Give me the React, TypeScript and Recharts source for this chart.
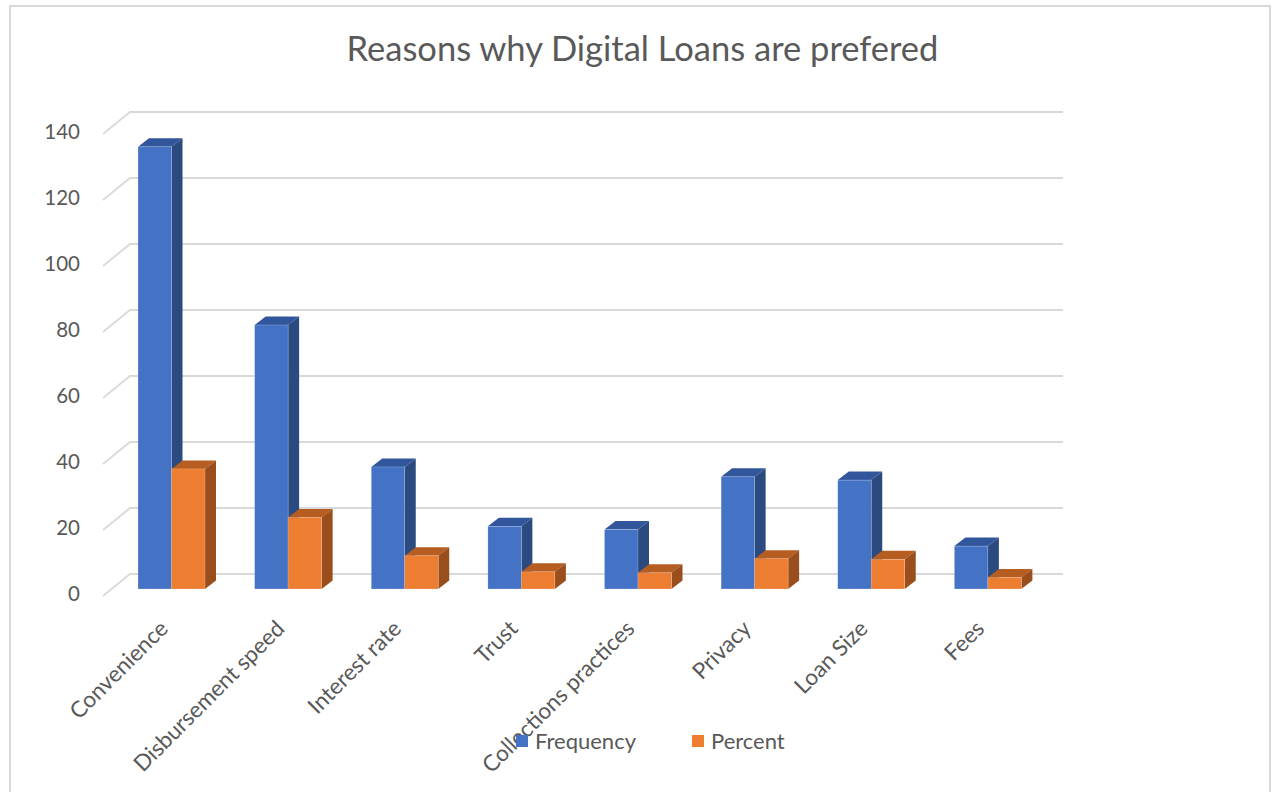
import React from 'react';
import { BarChart, Bar, XAxis, YAxis, CartesianGrid } from 'recharts';

const categories = [
  'Convenience',
  'Disbursement speed',
  'Interest rate',
  'Trust',
  'Collections practices',
  'Privacy',
  'Loan Size',
  'Fees',
];
const frequency = [134, 80, 37, 19, 18, 34, 33, 13];
const percent = [36.4, 21.7, 10.1, 5.2, 4.9, 9.2, 9.0, 3.5];
const yTicks = [0, 20, 40, 60, 80, 100, 120, 140];
const seriesNames = ['Frequency', 'Percent'];

const data = categories.map((c, i) => ({ name: c, frequency: frequency[i], percent: percent[i] }));

const FONT = 'Lato, "Open Sans", sans-serif';
const TEXT = '#595959';
const DX = 11;
const DY = 8.5;

const COLORS = {
  frequency: { front: '#4472C4', top: '#32569B', side: '#2B4A80' },
  percent: { front: '#ED7D31', top: '#B65D22', side: '#9A4E1C' },
};

function make3D(c: { front: string; top: string; side: string }) {
  return (props: any) => {
    const { x, y, width, height } = props;
    if (height == null || width == null) return null;
    const r = x + width;
    const b = y + height;
    return (
      <g>
        <polygon points={`${x},${y} ${x + DX},${y - DY} ${r + DX},${y - DY} ${r},${y}`} fill={c.top} />
        <polygon points={`${r},${y} ${r + DX},${y - DY} ${r + DX},${b - DY} ${r},${b}`} fill={c.side} />
        <rect x={x} y={y} width={width} height={height} fill={c.front} stroke="#ffffff" strokeOpacity={0.35} strokeWidth={0.6} />
      </g>
    );
  };
}

const YTick = (props: any) => {
  const { y, payload } = props;
  return (
    <text x={80} y={y + 12} textAnchor="end" fill={TEXT} fontSize={20.5} fontFamily={FONT}>
      {payload.value}
    </text>
  );
};

const XTick = (props: any) => {
  const { x, y, payload } = props;
  const ax = x - 2;
  const ay = y + 33;
  return (
    <text
      x={ax}
      y={ay}
      textAnchor="end"
      fill={TEXT}
      fontSize={22.5}
      fontFamily={FONT}
      transform={`rotate(-45 ${ax} ${ay})`}
    >
      {payload.value}
    </text>
  );
};

const GridLine = (props: any) => {
  const { x1, x2, y1 } = props;
  return (
    <path
      d={`M ${x1 - 10} ${y1 + 7} L ${x1 + 17} ${y1 - 15} L ${x2 + 17} ${y1 - 15}`}
      stroke="#D9D9D9"
      strokeWidth={1.8}
      fill="none"
    />
  );
};

export default function App() {
  return (
    <div style={{ position: 'absolute', left: 0, top: 0, width: 1275, height: 792, background: '#fff', overflow: 'hidden' }}>
      <div
        style={{
          position: 'absolute',
          left: 9,
          top: 5,
          width: 1262,
          height: 800,
          border: '2px solid #D9D9D9',
          boxSizing: 'border-box',
        }}
      />
      <div
        style={{
          position: 'absolute',
          left: 0,
          top: 27,
          width: 1285,
          textAlign: 'center',
          fontFamily: FONT,
          fontSize: 34.5,
          color: TEXT,
        }}
      >
        Reasons why Digital Loans are prefered
      </div>
      <div style={{ position: 'absolute', left: 0, top: 0 }}>
        <BarChart
          width={1275}
          height={792}
          data={data}
          margin={{ top: 127, right: 229, left: 0, bottom: 0 }}
          barGap={0}
          barSize={33.5}
        >
          <CartesianGrid vertical={false} horizontal={GridLine as any} />
          <XAxis dataKey="name" interval={0} axisLine={false} tickLine={false} height={203} tick={XTick} />
          <YAxis
            type="number"
            domain={[0, 140]}
            ticks={yTicks}
            width={113}
            axisLine={false}
            tickLine={false}
            tick={YTick}
          />
          <Bar dataKey="frequency" name={seriesNames[0]} shape={make3D(COLORS.frequency)} isAnimationActive={false} />
          <Bar dataKey="percent" name={seriesNames[1]} shape={make3D(COLORS.percent)} isAnimationActive={false} />
        </BarChart>
      </div>
      <div
        style={{
          position: 'absolute',
          left: 516,
          top: 727,
          display: 'flex',
          alignItems: 'center',
          fontFamily: FONT,
          fontSize: 22,
          color: TEXT,
        }}
      >
        {seriesNames.map((n, i) => (
          <div key={n} style={{ display: 'flex', alignItems: 'center', marginRight: i === 0 ? 56 : 0 }}>
            <span
              style={{
                display: 'inline-block',
                width: 12,
                height: 12,
                background: i === 0 ? COLORS.frequency.front : COLORS.percent.front,
                marginRight: 7,
              }}
            />
            <span>{n}</span>
          </div>
        ))}
      </div>
    </div>
  );
}
